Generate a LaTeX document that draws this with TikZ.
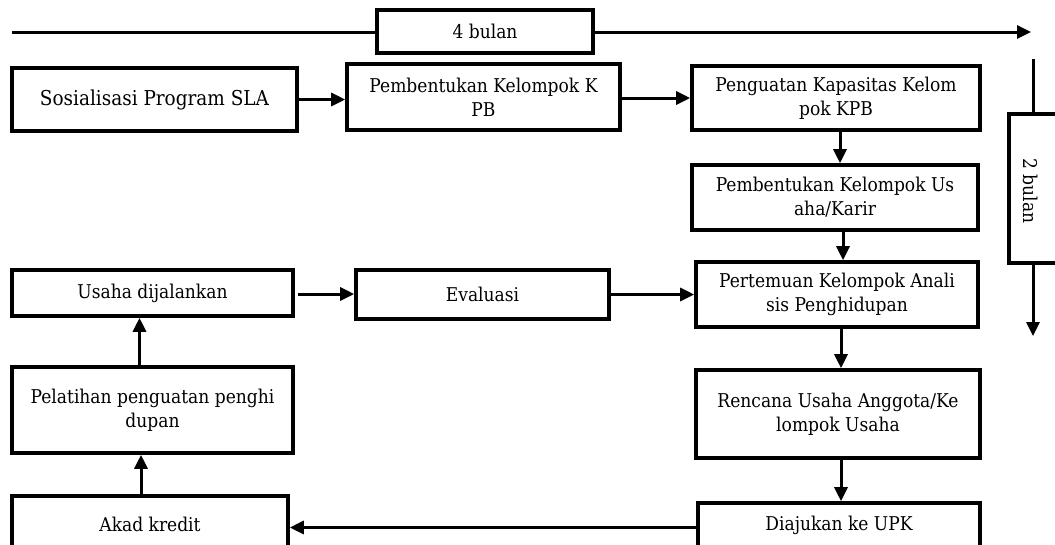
\documentclass[tikz,border=0pt]{standalone}
\usepackage{fontspec}
\setmainfont{DejaVu Serif Condensed}
\usetikzlibrary{arrows.meta}
\tikzset{
  box/.style={draw=black, line width=3.6pt, fill=white, inner sep=0pt, align=center,
    font=\fontsize{19}{24}\selectfont},
  conn/.style={line width=3pt, -{Triangle[length=14pt,width=13pt]}},
  plain/.style={line width=3pt}
}
\begin{document}
\begin{tikzpicture}[x=1pt,y=-1pt]
\useasboundingbox (0,0) rectangle (1055,544);
% boxes
\node[box, minimum width=216pt, minimum height=43pt] (b4) at (485,31.5) {4 bulan};
\node[box, minimum width=285pt, minimum height=63pt, font=\fontsize{20.5}{26}\selectfont] (soc) at (154.5,99.5) {Sosialisasi Program SLA};
\node[box, minimum width=273pt, minimum height=66pt] (kpb) at (483.5,97) {Pembentukan Kelompok K\\PB};
\node[box, minimum width=288pt, minimum height=64pt] (kap) at (836,98) {Penguatan Kapasitas Kelom\\pok KPB};
\node[box, minimum width=286pt, minimum height=65pt] (kus) at (835,197.5) {Pembentukan Kelompok Us\\aha/Karir};
\node[box, minimum width=282pt, minimum height=65pt] (pert) at (837,294.5) {Pertemuan Kelompok Anali\\sis Penghidupan};
\node[box, minimum width=48pt, minimum height=149pt] (b2) at (1033,188.5) {};
\node[rotate=-90, font=\fontsize{19}{24}\selectfont] (b2t) at (1031,191) {2 bulan};
\node[box, minimum width=281pt, minimum height=46pt] (usaha) at (152.5,293) {Usaha dijalankan};
\node[box, minimum width=253pt, minimum height=49pt] (eval) at (482.5,294.5) {Evaluasi};
\node[box, minimum width=281pt, minimum height=86pt] (pel) at (152.5,410) {Pelatihan penguatan penghi\\dupan};
\node[box, minimum width=276pt, minimum height=56pt] (akad) at (150,524) {Akad kredit};
\node[box, minimum width=284pt, minimum height=88pt] (renc) at (838,414) {Rencana Usaha Anggota/Ke\\lompok Usaha};
\node[box, minimum width=282pt, minimum height=45pt] (diaj) at (839,525.5) {Diajukan ke UPK};
% timeline coordinates
\coordinate (tl) at (12,32);
\coordinate (tr) at (1031,32);
\coordinate (vt) at (1033,59);
\coordinate (vb) at (1033,336);
% connectors
\draw[plain] (tl) -- (b4.west |- tl);
\draw[conn] (b4.east |- tr) -- (tr);
\draw[plain] (vt) -- (vt |- b2.north);
\draw[conn] (vb |- b2.south) -- (vb);
\draw[conn] (soc.east) -- (soc.east -| kpb.west);
\draw[conn] ([yshift=-1pt]kpb.east) -- ([yshift=-1pt]kpb.east -| kap.west);
\draw[conn] ([xshift=4pt]kap.south) -- ([xshift=4pt]kap.south |- kus.north);
\draw[conn] ([xshift=8pt]kus.south) -- ([xshift=8pt]kus.south |- pert.north);
\draw[conn] ([xshift=4pt]pert.south) -- ([xshift=4pt]pert.south |- renc.north);
\draw[conn] ([xshift=3pt]renc.south) -- ([xshift=3pt]renc.south |- diaj.north);
\draw[conn] ([yshift=-2pt]diaj.west) -- ([yshift=-2pt]diaj.west -| akad.east);
\draw[conn] ([xshift=-9pt]akad.north) -- ([xshift=-9pt]akad.north |- pel.south);
\draw[conn] ([xshift=-13pt]pel.north) -- ([xshift=-13pt]pel.north |- usaha.south);
\draw[conn] ([xshift=3pt,yshift=-1pt]usaha.east) -- ([yshift=-1pt]usaha.east -| eval.west);
\draw[conn] (eval.east) -- (eval.east -| pert.west);
\end{tikzpicture}
\end{document}
